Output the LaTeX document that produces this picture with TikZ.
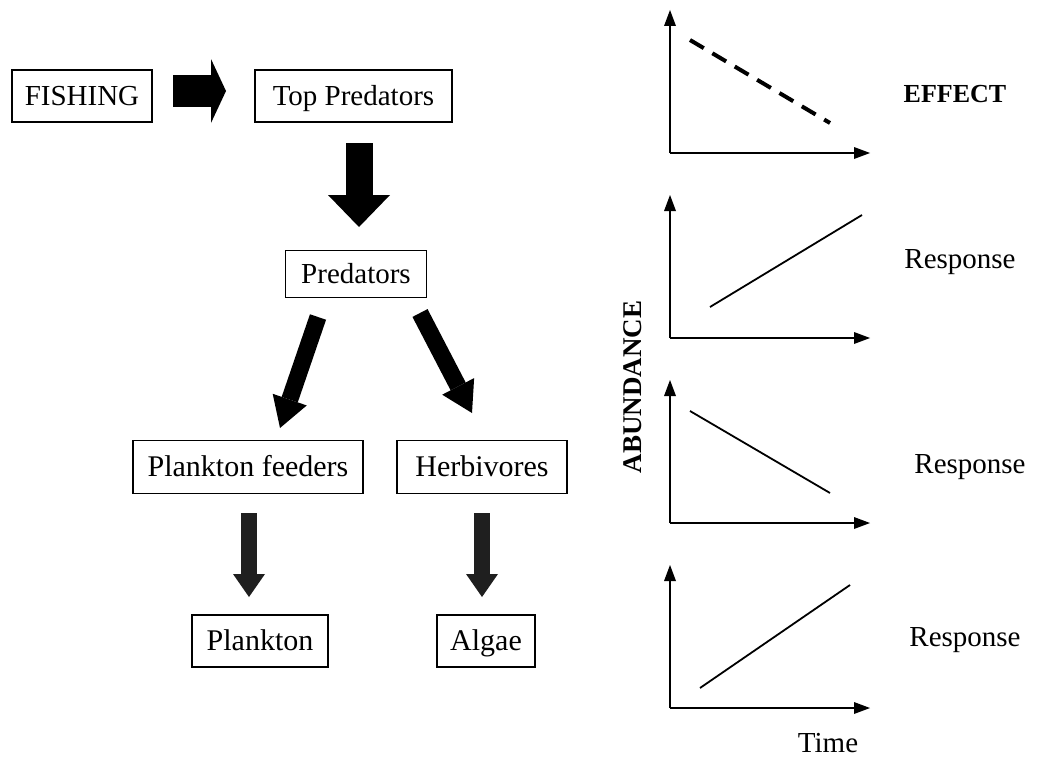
\documentclass[tikz,border=0pt]{standalone}
\usepackage{fontspec}
\setmainfont{Liberation Serif}
\usetikzlibrary{arrows.meta,calc}
\tikzset{
  box/.style={draw, line width=1.5pt, inner sep=0pt, text height=25pt, text depth=6pt,
      font=\fontsize{29}{34}\selectfont},
  lowbox/.style={box, font=\fontsize{30}{35}\selectfont},
  barrow/.style n args={3}{line width=#1pt, draw=black,
      -{Triangle[width=#2pt,length=#3pt,line width=0pt]}},
  garrow/.style n args={3}{barrow={#1}{#2}{#3}, draw=black!88},
  axis/.style={line width=2pt, -{Triangle[width=12pt,length=16pt,line width=0pt]}},
  trend/.style={line width=1.8pt},
  dtrend/.style={line width=4pt, dash pattern=on 16pt off 10pt},
  lab/.style={font=\fontsize{29}{34}\selectfont},
  blab/.style={font=\fontsize{26}{30}\selectfont\bfseries},
}
\begin{document}
\begin{tikzpicture}[x=1pt,y=-1pt]
\useasboundingbox (0,0) rectangle (1040,760);
% boxes
\node[box, minimum width=140pt, minimum height=52pt] (fish) at (82,96) {FISHING};
\node[box, minimum width=197pt, minimum height=52pt] (top) at (353.5,96) {Top Predators};
\node[box, minimum width=141pt, minimum height=47pt] (pred) at (356,274) {Predators};
\node[lowbox, minimum width=230pt, minimum height=53pt] (pf) at (248,467) {Plankton feeders};
\node[lowbox, minimum width=170pt, minimum height=53pt] (herb) at (482,467) {Herbivores};
\node[lowbox, minimum width=136pt, minimum height=52pt] (plank) at (260,641) {Plankton};
\node[lowbox, minimum width=98pt, minimum height=52pt] (alg) at (486,641) {Algae};
% block arrow anchors
\coordinate (a1s) at (173,91);  \coordinate (a1e) at (226,91);
\coordinate (a2s) at (359,143); \coordinate (a2e) at (359,227);
\coordinate (a3s) at (318,317); \coordinate (a3e) at (280,428);
\coordinate (a4s) at (420,313); \coordinate (a4e) at (472,413);
\coordinate (a5s) at (249,513); \coordinate (a5e) at (249,597);
\coordinate (a6s) at (482,513); \coordinate (a6e) at (482,597);
\draw[barrow={32}{64}{15}] (a1s) -- (a1e);
\draw[barrow={27}{62}{32}] (a2s) -- (a2e);
\draw[barrow={17}{36}{30}] (a3s) -- (a3e);
\draw[barrow={17}{36}{30}] (a4s) -- (a4e);
\draw[garrow={16}{32}{23}] (a5s) -- (a5e);
\draw[garrow={16}{32}{23}] (a6s) -- (a6e);
% graphs
\foreach \i/\oy in {1/153, 2/338, 3/523, 4/708} {
  \coordinate (o\i) at (670,\oy);
  \coordinate (yt\i) at (670,\oy-143);
  \coordinate (xt\i) at (870,\oy);
  \draw[axis] (o\i) -- (yt\i);
  \draw[axis] (o\i) -- (xt\i);
}
\coordinate (l1a) at (690,40);  \coordinate (l1b) at (830,123);
\coordinate (l2a) at (710,307); \coordinate (l2b) at (862,215);
\coordinate (l3a) at (690,411); \coordinate (l3b) at (830,493);
\coordinate (l4a) at (700,688); \coordinate (l4b) at (850,585);
\draw[dtrend] (l1a) -- (l1b);
\draw[trend] (l2a) -- (l2b);
\draw[trend] (l3a) -- (l3b);
\draw[trend] (l4a) -- (l4b);
% labels
\node[blab] (effect) at (955,94) {EFFECT};
\node[lab] (r2) at (960,262) {Response};
\node[lab] (r3) at (970,467) {Response};
\node[lab] (r4) at (965,640) {Response};
\node[lab] (time) at (828,743) {Time};
\node[blab, font=\fontsize{27}{30}\selectfont\bfseries, rotate=90] (abund) at (633,387) {ABUNDANCE};
\end{tikzpicture}
\end{document}
